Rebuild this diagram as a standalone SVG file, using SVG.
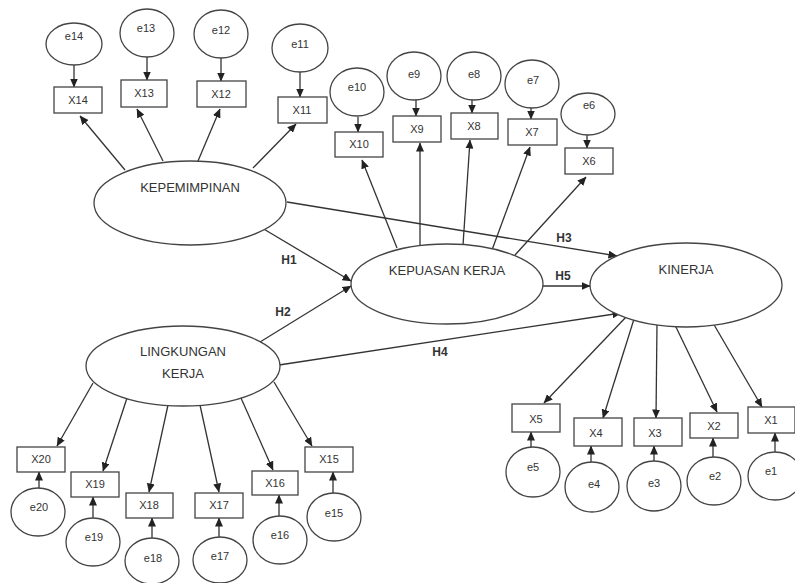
<svg xmlns="http://www.w3.org/2000/svg" width="795" height="583" viewBox="0 0 795 583">
<style>
  .n ellipse, .n rect { fill: #fff; stroke: #444; stroke-width: 1.3; }
  .t { font-family: "Liberation Sans", "DejaVu Sans", sans-serif; font-size: 11px; fill: #333; text-anchor: middle; }
  .lt { font-family: "Liberation Sans", "DejaVu Sans", sans-serif; font-size: 13px; fill: #333; text-anchor: middle; }
  .h { font-family: "Liberation Sans", "DejaVu Sans", sans-serif; font-size: 12px; font-weight: bold; fill: #333; text-anchor: middle; }
  #edges line { stroke: #333; stroke-width: 1.3; fill: none; marker-end: url(#arr); }
</style>
<defs>
  <marker id="arr" markerUnits="userSpaceOnUse" markerWidth="9" markerHeight="8" refX="8.5" refY="4" orient="auto">
    <path d="M0,0 L9,4 L0,8 z" fill="#222"/>
  </marker>
</defs>
<rect width="795" height="583" fill="#fff"/>

<g id="edges">
  <!-- KEPEMIMPINAN indicators -->
  <line x1="125" y1="170" x2="80" y2="116"/>
  <line x1="163" y1="161" x2="137" y2="109"/>
  <line x1="198" y1="161" x2="220" y2="109"/>
  <line x1="253" y1="168" x2="296" y2="124"/>
  <!-- errors to X top -->
  <line x1="74" y1="65" x2="74" y2="87"/>
  <line x1="147" y1="57" x2="147" y2="80"/>
  <line x1="221" y1="58" x2="221" y2="81"/>
  <line x1="300" y1="72" x2="300" y2="97"/>
  <line x1="358" y1="117" x2="358" y2="132"/>
  <line x1="416" y1="100" x2="416" y2="116"/>
  <line x1="472" y1="100" x2="472" y2="113"/>
  <line x1="531" y1="107" x2="531" y2="119"/>
  <line x1="587" y1="135" x2="587" y2="148"/>
  <!-- KEPUASAN indicators -->
  <line x1="397" y1="248" x2="362" y2="160"/>
  <line x1="420" y1="245" x2="420" y2="143"/>
  <line x1="463" y1="245" x2="470" y2="140"/>
  <line x1="492" y1="250" x2="530" y2="147"/>
  <line x1="515" y1="255" x2="586" y2="177"/>
  <!-- structural -->
  <line x1="287" y1="202" x2="617" y2="256"/>
  <line x1="262" y1="228" x2="351" y2="281"/>
  <line x1="260" y1="342" x2="351" y2="286"/>
  <line x1="279" y1="365" x2="621" y2="313"/>
  <line x1="543" y1="286" x2="590" y2="286"/>
  <!-- LINGKUNGAN indicators -->
  <line x1="93" y1="383" x2="57" y2="446"/>
  <line x1="127" y1="398" x2="103" y2="471"/>
  <line x1="168" y1="405" x2="149" y2="492"/>
  <line x1="200" y1="405" x2="219" y2="492"/>
  <line x1="241" y1="398" x2="273" y2="470"/>
  <line x1="274" y1="382" x2="312" y2="446"/>
  <!-- bottom-left errors -->
  <line x1="39" y1="488" x2="39" y2="472"/>
  <line x1="93" y1="518" x2="93" y2="497"/>
  <line x1="152" y1="538" x2="152" y2="518"/>
  <line x1="219" y1="537" x2="219" y2="518"/>
  <line x1="279" y1="516" x2="279" y2="495"/>
  <line x1="333" y1="493" x2="333" y2="472"/>
  <!-- KINERJA indicators -->
  <line x1="627" y1="316" x2="544" y2="403"/>
  <line x1="634" y1="319" x2="603" y2="418"/>
  <line x1="657" y1="323" x2="656" y2="418"/>
  <line x1="675" y1="325" x2="717" y2="412"/>
  <line x1="713" y1="323" x2="762" y2="407"/>
  <!-- bottom-right errors -->
  <line x1="531" y1="447" x2="531" y2="432"/>
  <line x1="591" y1="463" x2="591" y2="446"/>
  <line x1="654" y1="462" x2="654" y2="446"/>
  <line x1="713" y1="457" x2="713" y2="438"/>
  <line x1="775" y1="452" x2="775" y2="433"/>
</g>

<g id="labels">
  <text class="h" x="289" y="264">H1</text>
  <text class="h" x="283" y="316">H2</text>
  <text class="h" x="564" y="242">H3</text>
  <text class="h" x="440" y="356">H4</text>
  <text class="h" x="563" y="280">H5</text>
</g>

<!-- latent variables -->
<g id="KEPEMIMPINAN" class="n"><ellipse cx="190" cy="203" rx="96" ry="42"/><text class="lt" x="190" y="192">KEPEMIMPINAN</text></g>
<g id="KEPUASAN" class="n"><ellipse cx="447" cy="284" rx="96" ry="40"/><text class="lt" x="447" y="275">KEPUASAN KERJA</text></g>
<g id="KINERJA" class="n"><ellipse cx="686" cy="285" rx="96" ry="42"/><text class="lt" x="686" y="274">KINERJA</text></g>
<g id="LINGKUNGAN" class="n"><ellipse cx="183" cy="366" rx="97" ry="40"/><text class="lt" x="183" y="356">LINGKUNGAN</text><text class="lt" x="183" y="378">KERJA</text></g>

<!-- indicators top -->
<g id="X14" class="n"><rect x="54" y="87" width="48" height="26"/><text class="t" x="78" y="104">X14</text></g>
<g id="X13" class="n"><rect x="121" y="80" width="46" height="27"/><text class="t" x="144" y="97">X13</text></g>
<g id="X12" class="n"><rect x="197" y="81" width="49" height="26"/><text class="t" x="221" y="98">X12</text></g>
<g id="X11" class="n"><rect x="278" y="97" width="49" height="26"/><text class="t" x="302" y="114">X11</text></g>
<g id="X10" class="n"><rect x="335" y="132" width="48" height="25"/><text class="t" x="359" y="148">X10</text></g>
<g id="X9" class="n"><rect x="393" y="116" width="48" height="26"/><text class="t" x="417" y="133">X9</text></g>
<g id="X8" class="n"><rect x="451" y="113" width="47" height="26"/><text class="t" x="474" y="130">X8</text></g>
<g id="X7" class="n"><rect x="508" y="119" width="49" height="26"/><text class="t" x="532" y="136">X7</text></g>
<g id="X6" class="n"><rect x="565" y="148" width="48" height="26"/><text class="t" x="589" y="165">X6</text></g>

<g id="e14" class="n"><ellipse cx="74" cy="44" rx="28" ry="21"/><text class="t" x="74" y="40">e14</text></g>
<g id="e13" class="n"><ellipse cx="147" cy="33" rx="27" ry="24"/><text class="t" x="146" y="32">e13</text></g>
<g id="e12" class="n"><ellipse cx="221" cy="34" rx="27" ry="24"/><text class="t" x="221" y="34">e12</text></g>
<g id="e11" class="n"><ellipse cx="300" cy="48" rx="28" ry="24"/><text class="t" x="300" y="48">e11</text></g>
<g id="e10" class="n"><ellipse cx="357" cy="92" rx="27" ry="24"/><text class="t" x="357" y="91">e10</text></g>
<g id="e9" class="n"><ellipse cx="414" cy="76" rx="27" ry="24"/><text class="t" x="414" y="78">e9</text></g>
<g id="e8" class="n"><ellipse cx="474" cy="76" rx="27" ry="24"/><text class="t" x="474" y="78">e8</text></g>
<g id="e7" class="n"><ellipse cx="532" cy="84" rx="27" ry="24"/><text class="t" x="533" y="84">e7</text></g>
<g id="e6" class="n"><ellipse cx="588" cy="114" rx="27" ry="21"/><text class="t" x="589" y="109">e6</text></g>

<!-- indicators bottom-left -->
<g id="X20" class="n"><rect x="17" y="447" width="48" height="25"/><text class="t" x="41" y="463">X20</text></g>
<g id="X19" class="n"><rect x="71" y="472" width="48" height="25"/><text class="t" x="95" y="488">X19</text></g>
<g id="X18" class="n"><rect x="126" y="493" width="47" height="25"/><text class="t" x="149" y="509">X18</text></g>
<g id="X17" class="n"><rect x="195" y="493" width="48" height="25"/><text class="t" x="219" y="509">X17</text></g>
<g id="X16" class="n"><rect x="252" y="471" width="46" height="24"/><text class="t" x="275" y="487">X16</text></g>
<g id="X15" class="n"><rect x="305" y="447" width="48" height="25"/><text class="t" x="329" y="463">X15</text></g>

<g id="e20" class="n"><ellipse cx="38" cy="512" rx="27" ry="24"/><text class="t" x="39" y="511">e20</text></g>
<g id="e19" class="n"><ellipse cx="93" cy="542" rx="27" ry="24"/><text class="t" x="94" y="541">e19</text></g>
<g id="e18" class="n"><ellipse cx="152" cy="561" rx="27" ry="23"/><text class="t" x="153" y="562">e18</text></g>
<g id="e17" class="n"><ellipse cx="220" cy="560" rx="27" ry="23"/><text class="t" x="220" y="560">e17</text></g>
<g id="e16" class="n"><ellipse cx="280" cy="540" rx="27" ry="24"/><text class="t" x="280" y="539">e16</text></g>
<g id="e15" class="n"><ellipse cx="334" cy="517" rx="27" ry="24"/><text class="t" x="334" y="517">e15</text></g>

<!-- indicators bottom-right -->
<g id="X5" class="n"><rect x="512" y="404" width="48" height="28"/><text class="t" x="536" y="423">X5</text></g>
<g id="X4" class="n"><rect x="574" y="418" width="48" height="28"/><text class="t" x="596" y="437">X4</text></g>
<g id="X3" class="n"><rect x="634" y="418" width="48" height="28"/><text class="t" x="655" y="437">X3</text></g>
<g id="X2" class="n"><rect x="690" y="413" width="48" height="25"/><text class="t" x="714" y="430">X2</text></g>
<g id="X1" class="n"><rect x="748" y="407" width="47" height="26"/><text class="t" x="771" y="424">X1</text></g>

<g id="e5" class="n"><ellipse cx="533" cy="472" rx="27" ry="25"/><text class="t" x="533" y="471">e5</text></g>
<g id="e4" class="n"><ellipse cx="592" cy="487" rx="27" ry="25"/><text class="t" x="594" y="488">e4</text></g>
<g id="e3" class="n"><ellipse cx="654" cy="486" rx="27" ry="25"/><text class="t" x="654" y="487">e3</text></g>
<g id="e2" class="n"><ellipse cx="714" cy="481" rx="27" ry="24"/><text class="t" x="715" y="480">e2</text></g>
<g id="e1" class="n"><ellipse cx="775" cy="476" rx="27" ry="24"/><text class="t" x="771" y="475">e1</text></g>
</svg>
